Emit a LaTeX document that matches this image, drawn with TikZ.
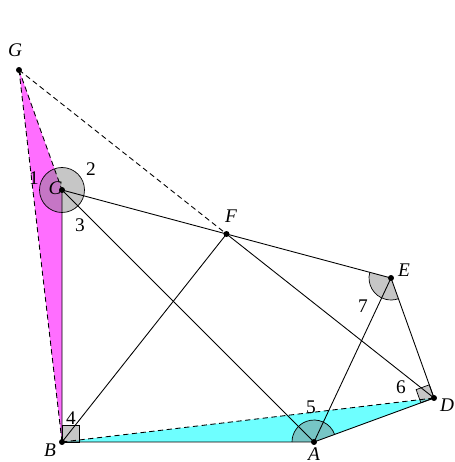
\documentclass[tikz,border=0pt]{standalone}
\usepackage{fontspec}
\setmainfont{Liberation Serif}
\usetikzlibrary{angles,calc}
\definecolor{figmagenta}{RGB}{255,110,255}
\definecolor{figcyan}{RGB}{110,255,255}

\begin{document}
\begin{tikzpicture}[
    x=0.02cm,y=0.02cm,
    font=\fontsize{11}{13}\selectfont,
    seg/.style={line width=0.5pt},
    hidden/.style={line width=0.5pt,dash pattern=on 3pt off 2pt},
    angmark/.style={draw,line width=0.4pt,fill=gray,fill opacity=0.45},
    num/.style={inner sep=0pt},
    vname/.style={inner sep=0pt,font=\fontsize{11}{13}\itshape}
  ]
    \useasboundingbox (0,0) rectangle (454,462);

    \coordinate (G) at (19,392);
    \coordinate (C) at (62,272);
    \coordinate (B) at (62,20);
    \coordinate (A) at (314,20);
    \coordinate (D) at (434,64);
    \coordinate (E) at (391,184);
    \coordinate (F) at ($(C)!0.5!(E)$);

    \fill[figmagenta] (G) -- (C) -- (B) -- cycle;
    \fill[figcyan] (B) -- (A) -- (D) -- cycle;

    \path[angmark] (C) circle (0.45cm);
    \path[angmark] (B) rectangle ++(17,17);
    \coordinate (de) at ($(D)!0.28cm!(E)$);
    \coordinate (da) at ($(D)!0.28cm!(A)$);
    \path[angmark] (D) -- (de) -- ($(de)+(da)-(D)$) -- (da) -- cycle;
    \pic[angmark,angle radius=0.44cm] {angle=D--A--B};
    \pic[angmark,angle radius=0.44cm] {angle=C--E--D};

    \draw[hidden] (G) -- (C);
    \draw[hidden] (G) -- (B);
    \draw[hidden] (G) -- (F);
    \draw[hidden] (B) -- (D);
    \draw[seg] (C) -- (B) -- (A) -- (D);
    \draw[seg] (C) -- (F) -- (E);
    \draw[seg] (C) -- (A);
    \draw[seg] (B) -- (F) -- (D);
    \draw[seg] (A) -- (E) -- (D);

    \foreach \p in {G,C,B,A,D,E,F}
      \fill (\p) circle (1.7pt);

    \node[vname] (lG) at (15,412) {G};
    \node[vname] (lC) at (55,274) {C};
    \node[vname] (lB) at (50,12) {B};
    \node[vname] (lA) at (314,8) {A};
    \node[vname] (lD) at (447,57) {D};
    \node[vname] (lE) at (404,192) {E};
    \node[vname] (lF) at (231,246) {F};

    \node[num] (one) at (34,284) {1};
    \node[num] (two) at (91,293) {2};
    \node[num] (three) at (80,237) {3};
    \node[num] (four) at (71,44) {4};
    \node[num] (five) at (311,55) {5};
    \node[num] (six) at (401,75) {6};
    \node[num] (seven) at (363,156) {7};
  \end{tikzpicture}
\end{document}
